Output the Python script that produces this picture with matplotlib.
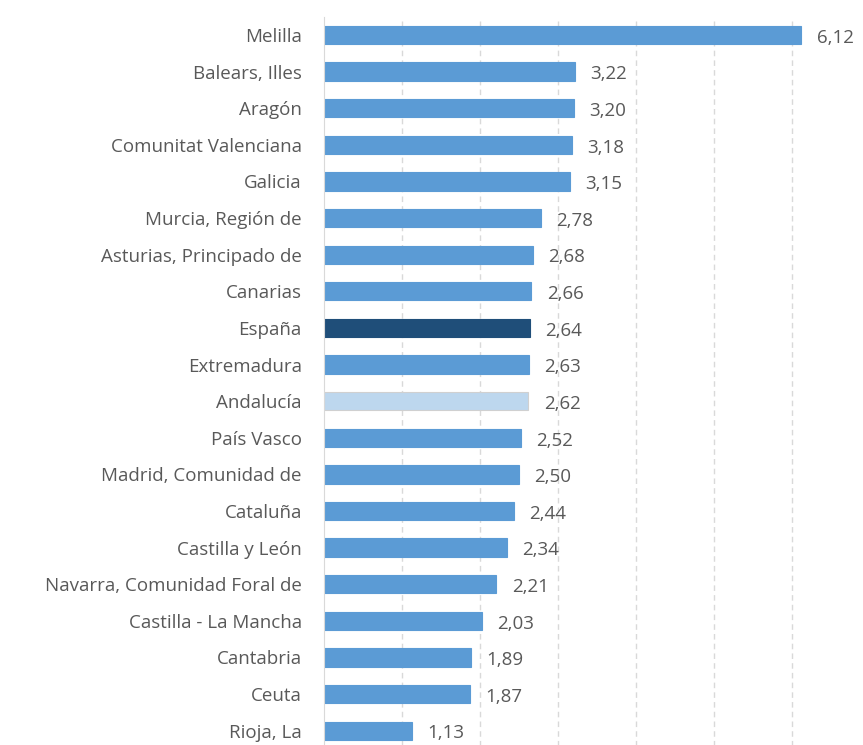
import matplotlib.pyplot as plt

regions = ["Melilla", "Balears, Illes", "Aragón", "Comunitat Valenciana", "Galicia",
           "Murcia, Región de", "Asturias, Principado de", "Canarias", "España",
           "Extremadura", "Andalucía", "País Vasco", "Madrid, Comunidad de",
           "Cataluña", "Castilla y León", "Navarra, Comunidad Foral de",
           "Castilla - La Mancha", "Cantabria", "Ceuta", "Rioja, La"]
values = [6.12, 3.22, 3.20, 3.18, 3.15, 2.78, 2.68, 2.66, 2.64, 2.63, 2.62,
          2.52, 2.50, 2.44, 2.34, 2.21, 2.03, 1.89, 1.87, 1.13]

base = "#5B9BD5"
special = {"España": "#1F4E79", "Andalucía": "#BDD7EE"}
colors = [special.get(r, base) for r in regions]
edges = ["#D0D0D0" if r == "Andalucía" else c for r, c in zip(regions, colors)]

plt.rcParams['font.family'] = ['Open Sans', 'DejaVu Sans']
txt = "#595959"

fig = plt.figure(figsize=(8.63, 7.45), dpi=100)
ax = fig.add_axes([324 / 863, -0.0054, 1 - 324 / 863, 0.983])

y = list(range(len(regions)))
ax.barh(y, values, height=0.5, color=colors, edgecolor=edges, linewidth=0.8, zorder=3)
ax.set_ylim(len(regions) - 0.5, -0.5)
ax.set_xlim(0, 6.91)

for yi, v in zip(y, values):
    ax.annotate(f"{v:.2f}".replace(".", ","), (v, yi), xytext=(11, -2),
                textcoords="offset points", va="center", ha="left",
                fontsize=13.5, color=txt)

ax.set_yticks(y)
ax.set_yticklabels(regions, fontsize=13.5, color=txt)
ax.tick_params(axis="y", length=0, pad=16)
ax.set_xticks(range(1, 7))
ax.tick_params(axis="x", length=0, labelbottom=False)
ax.grid(axis="x", color="#D9D9D9", linestyle=(0, (4, 3)), linewidth=1, zorder=0)

for s in ["top", "right", "bottom"]:
    ax.spines[s].set_visible(False)
ax.spines["left"].set_color("#D9D9D9")
ax.spines["left"].set_zorder(4)

fig.savefig("out.png", dpi=100)
